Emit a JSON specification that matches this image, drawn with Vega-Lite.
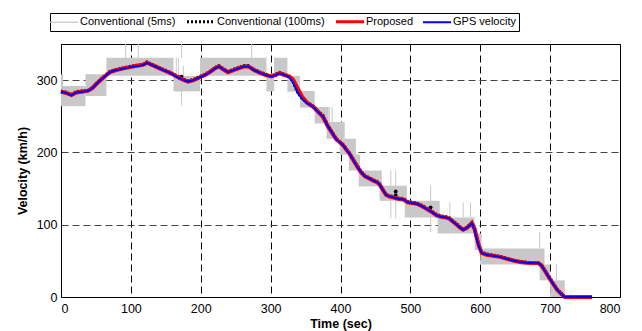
{
  "$schema": "https://vega.github.io/schema/vega-lite/v6.json",
  "width": 559,
  "height": 253,
  "autosize": {"type": "none"},
  "padding": {"left": 61, "top": 44, "right": 22, "bottom": 34},
  "background": "white",
  "config": {
    "view": {"stroke": "#000", "strokeWidth": 1},
    "font": "Liberation Sans",
    "axisX": {"grid": true, "gridColor": "#000", "gridDash": [7, 4], "gridOpacity": 1, "ticks": false, "labelPadding": 5, "domainColor": "#000", "labelFontSize": 12.5, "labelColor": "#000", "labelFont": "Liberation Sans", "titleFont": "Liberation Sans", "titleFontSize": 12.5, "titleFontWeight": "bold", "titleColor": "#000", "titlePadding": 3},
    "axisY": {"grid": true, "gridColor": "#444", "gridDash": [7, 4], "gridOpacity": 1, "ticks": false, "labelPadding": 4, "domainColor": "#000", "labelFontSize": 12.5, "labelColor": "#000", "labelFont": "Liberation Sans", "titleFont": "Liberation Sans", "titleFontSize": 12.5, "titleFontWeight": "bold", "titleColor": "#000", "titlePadding": 7}
  },
  "datasets": {
    "blocks": [
      {"t0": 0, "t1": 35, "v0": 264, "v1": 292},
      {"t0": 0, "t1": 3, "v0": 292, "v1": 308},
      {"t0": 35, "t1": 65, "v0": 278, "v1": 308},
      {"t0": 65, "t1": 161, "v0": 306, "v1": 331},
      {"t0": 161, "t1": 199, "v0": 284.5, "v1": 306},
      {"t0": 199, "t1": 294, "v0": 306, "v1": 331},
      {"t0": 294, "t1": 305, "v0": 284.5, "v1": 306},
      {"t0": 305, "t1": 324, "v0": 306, "v1": 331},
      {"t0": 324, "t1": 342, "v0": 284, "v1": 306},
      {"t0": 342, "t1": 363, "v0": 262, "v1": 285},
      {"t0": 363, "t1": 383, "v0": 240, "v1": 263},
      {"t0": 380, "t1": 406, "v0": 219, "v1": 242},
      {"t0": 399, "t1": 422, "v0": 197, "v1": 219},
      {"t0": 412, "t1": 428, "v0": 175, "v1": 197},
      {"t0": 426, "t1": 459, "v0": 153, "v1": 175},
      {"t0": 456, "t1": 495, "v0": 133, "v1": 154},
      {"t0": 492, "t1": 542, "v0": 110, "v1": 133},
      {"t0": 539, "t1": 592, "v0": 88, "v1": 110},
      {"t0": 592, "t1": 602, "v0": 65, "v1": 88},
      {"t0": 600, "t1": 692, "v0": 45, "v1": 67},
      {"t0": 685, "t1": 700, "v0": 23, "v1": 45},
      {"t0": 700, "t1": 721, "v0": 0, "v1": 23}
    ],
    "spikes": [
      {"t": 92.5, "v0": 331, "v1": 350},
      {"t": 110.6, "v0": 331, "v1": 350},
      {"t": 165, "v0": 284, "v1": 331},
      {"t": 168, "v0": 284, "v1": 331},
      {"t": 172.6, "v0": 331, "v1": 350},
      {"t": 172.6, "v0": 265, "v1": 285},
      {"t": 175, "v0": 290, "v1": 320},
      {"t": 272.8, "v0": 331, "v1": 350},
      {"t": 384, "v0": 219, "v1": 263},
      {"t": 388, "v0": 219, "v1": 263},
      {"t": 472, "v0": 109, "v1": 175},
      {"t": 479, "v0": 109, "v1": 175},
      {"t": 529, "v0": 90, "v1": 154},
      {"t": 556.5, "v0": 110, "v1": 131},
      {"t": 575.6, "v0": 110, "v1": 131},
      {"t": 586, "v0": 110, "v1": 131},
      {"t": 685, "v0": 67, "v1": 90},
      {"t": 709, "v0": 23, "v1": 46}
    ],
    "outliers": [
      {"t": 172.6, "v": 305},
      {"t": 479, "v": 146},
      {"t": 479, "v": 141},
      {"t": 529, "v": 124}
    ],
    "lines": [
      {"t": 0, "g": 284, "p": 284, "c": 285},
      {"t": 8, "g": 282, "p": 282, "c": 283},
      {"t": 15, "g": 279, "p": 279.5, "c": 280},
      {"t": 22, "g": 283, "p": 283, "c": 284},
      {"t": 30, "g": 284, "p": 284, "c": 285},
      {"t": 39, "g": 285, "p": 285.5, "c": 286},
      {"t": 45, "g": 289, "p": 289, "c": 290},
      {"t": 51, "g": 295, "p": 295, "c": 296},
      {"t": 60, "g": 303, "p": 303, "c": 304},
      {"t": 70, "g": 311, "p": 311, "c": 312},
      {"t": 76, "g": 313, "p": 313, "c": 314},
      {"t": 82, "g": 314.5, "p": 314.5, "c": 315.5},
      {"t": 90, "g": 316, "p": 316.5, "c": 317},
      {"t": 99, "g": 318, "p": 318, "c": 319},
      {"t": 106, "g": 319, "p": 319.5, "c": 320},
      {"t": 113, "g": 320, "p": 320.5, "c": 321},
      {"t": 118, "g": 321, "p": 321.5, "c": 322},
      {"t": 123, "g": 324, "p": 324, "c": 325},
      {"t": 130, "g": 321, "p": 321, "c": 322},
      {"t": 137, "g": 318, "p": 318, "c": 319},
      {"t": 146, "g": 314, "p": 314, "c": 315},
      {"t": 156, "g": 310, "p": 310, "c": 311},
      {"t": 163, "g": 306, "p": 306.5, "c": 307},
      {"t": 170, "g": 302.5, "p": 302.5, "c": 304},
      {"t": 176, "g": 300, "p": 300, "c": 301},
      {"t": 182, "g": 298, "p": 298, "c": 299},
      {"t": 190, "g": 300, "p": 300, "c": 301},
      {"t": 199, "g": 304, "p": 304, "c": 305},
      {"t": 206, "g": 307, "p": 307, "c": 308},
      {"t": 213, "g": 311, "p": 311, "c": 312},
      {"t": 220, "g": 316, "p": 316, "c": 317},
      {"t": 226, "g": 319, "p": 319, "c": 320},
      {"t": 232, "g": 315, "p": 315, "c": 316},
      {"t": 239, "g": 311, "p": 311, "c": 312},
      {"t": 247, "g": 314, "p": 314, "c": 315},
      {"t": 256, "g": 317, "p": 317, "c": 318},
      {"t": 262, "g": 319, "p": 319, "c": 320},
      {"t": 268, "g": 319, "p": 319, "c": 320},
      {"t": 276, "g": 314, "p": 314, "c": 315},
      {"t": 285, "g": 310, "p": 310, "c": 311},
      {"t": 293, "g": 307, "p": 307, "c": 308},
      {"t": 301, "g": 305, "p": 305, "c": 306},
      {"t": 307, "g": 307, "p": 307, "c": 308},
      {"t": 313, "g": 309.5, "p": 309.5, "c": 310.5},
      {"t": 320, "g": 307, "p": 307, "c": 308},
      {"t": 327, "g": 304, "p": 305, "c": 305},
      {"t": 332, "g": 297, "p": 301, "c": 298},
      {"t": 339, "g": 282, "p": 288, "c": 283},
      {"t": 345, "g": 274, "p": 277, "c": 275},
      {"t": 352, "g": 268, "p": 269, "c": 269},
      {"t": 361, "g": 263, "p": 263, "c": 264},
      {"t": 368, "g": 256, "p": 256, "c": 257},
      {"t": 375, "g": 249.6, "p": 249, "c": 251},
      {"t": 382, "g": 236, "p": 236, "c": 237},
      {"t": 388, "g": 227, "p": 227, "c": 228},
      {"t": 394, "g": 218, "p": 218, "c": 219},
      {"t": 399, "g": 214, "p": 214, "c": 215},
      {"t": 404, "g": 209.5, "p": 209.5, "c": 210.5},
      {"t": 413, "g": 198, "p": 198, "c": 199},
      {"t": 418, "g": 190, "p": 190, "c": 191},
      {"t": 423, "g": 182, "p": 182, "c": 183},
      {"t": 429, "g": 173, "p": 173, "c": 174},
      {"t": 435, "g": 167, "p": 167, "c": 168},
      {"t": 441, "g": 164, "p": 164, "c": 165},
      {"t": 447, "g": 161, "p": 161, "c": 162},
      {"t": 452, "g": 159, "p": 159, "c": 160},
      {"t": 456, "g": 155.6, "p": 155.6, "c": 156.6},
      {"t": 460, "g": 149, "p": 149, "c": 150},
      {"t": 465, "g": 141.5, "p": 141.5, "c": 142.5},
      {"t": 470, "g": 139, "p": 139, "c": 140},
      {"t": 475, "g": 138, "p": 138, "c": 139},
      {"t": 482, "g": 136, "p": 136, "c": 137},
      {"t": 490, "g": 135, "p": 135, "c": 136},
      {"t": 496, "g": 131, "p": 131, "c": 132},
      {"t": 502, "g": 130, "p": 130, "c": 131},
      {"t": 509, "g": 129, "p": 129, "c": 130},
      {"t": 516, "g": 126, "p": 126, "c": 127},
      {"t": 523, "g": 122, "p": 122, "c": 123},
      {"t": 530, "g": 118, "p": 118, "c": 119},
      {"t": 537.5, "g": 113, "p": 113, "c": 114},
      {"t": 544, "g": 111, "p": 111, "c": 112},
      {"t": 551, "g": 110, "p": 110, "c": 111},
      {"t": 556.5, "g": 108, "p": 108, "c": 109},
      {"t": 561, "g": 104, "p": 104, "c": 105},
      {"t": 566, "g": 100.4, "p": 100.4, "c": 101.4},
      {"t": 571, "g": 96, "p": 96, "c": 97},
      {"t": 575.6, "g": 93, "p": 93, "c": 94},
      {"t": 580, "g": 95, "p": 95, "c": 96},
      {"t": 585, "g": 99, "p": 99, "c": 100},
      {"t": 588, "g": 102, "p": 102, "c": 103},
      {"t": 592, "g": 93, "p": 94, "c": 94},
      {"t": 595, "g": 80, "p": 82, "c": 81},
      {"t": 598, "g": 70, "p": 71, "c": 71},
      {"t": 602, "g": 61, "p": 61, "c": 62},
      {"t": 609, "g": 58.5, "p": 58.5, "c": 59.5},
      {"t": 618, "g": 57, "p": 57, "c": 58},
      {"t": 628, "g": 55.5, "p": 55.5, "c": 56},
      {"t": 637, "g": 53, "p": 53, "c": 54},
      {"t": 647, "g": 50.5, "p": 50.5, "c": 51},
      {"t": 657, "g": 48.5, "p": 48.5, "c": 49},
      {"t": 666, "g": 47.5, "p": 47.5, "c": 48},
      {"t": 676, "g": 47, "p": 47, "c": 47.5},
      {"t": 683, "g": 47, "p": 47, "c": 47.5},
      {"t": 688, "g": 43, "p": 43, "c": 44},
      {"t": 692, "g": 37, "p": 37, "c": 38},
      {"t": 697, "g": 29, "p": 29, "c": 30},
      {"t": 704, "g": 18.5, "p": 18.5, "c": 19.5},
      {"t": 710, "g": 10, "p": 10, "c": 11},
      {"t": 716, "g": 4, "p": 4, "c": 5},
      {"t": 721, "g": 0, "p": 0, "c": 0.5},
      {"t": 730, "g": 0, "p": 0, "c": 0},
      {"t": 745, "g": 0, "p": 0, "c": 0},
      {"t": 760, "g": 0, "p": 0, "c": 0}
    ]
  },
  "layer": [
    {
      "data": {"name": "blocks"},
      "mark": {"type": "rect", "color": "#c8c8c8"},
      "encoding": {
        "x": {"field": "t0", "type": "quantitative", "title": "Time (sec)", "scale": {"domain": [0, 800], "nice": false}, "axis": {"values": [0, 100, 200, 300, 400, 500, 600, 700, 800]}},
        "x2": {"field": "t1"},
        "y": {"field": "v0", "type": "quantitative", "title": "Velocity (km/h)", "scale": {"domain": [0, 350], "nice": false}, "axis": {"values": [0, 50, 100, 150, 200, 250, 300, 350]}},
        "y2": {"field": "v1"}
      }
    },
    {
      "data": {"name": "spikes"},
      "mark": {"type": "rule", "color": "#c8c8c8", "strokeWidth": 1},
      "encoding": {
        "x": {"field": "t", "type": "quantitative", "title": "Time (sec)"},
        "y": {"field": "v0", "type": "quantitative", "title": "Velocity (km/h)"},
        "y2": {"field": "v1"}
      }
    },
    {
      "data": {"name": "lines"},
      "mark": {"type": "line", "strokeWidth": 3.2, "strokeDash": [2, 1.5]},
      "encoding": {
        "x": {"field": "t", "type": "quantitative", "title": "Time (sec)"},
        "y": {"field": "c", "type": "quantitative", "title": "Velocity (km/h)"},
        "color": {
          "datum": "Conventional (100ms)",
          "scale": {"domain": ["Conventional (5ms)", "Conventional (100ms)", "Proposed", "GPS velocity"], "range": ["#c8c8c8", "#000000", "#ff0000", "#0000ff"]},
          "legend": {
            "title": null,
            "orient": "none",
            "legendX": -11,
            "legendY": -31,
            "direction": "horizontal",
            "strokeColor": "#000",
            "fillColor": "#fff",
            "padding": 3,
            "columnPadding": 5,
            "labelFontSize": 11,
            "labelColor": "#000",
            "labelFont": "Liberation Sans",
            "labelOffset": 16,
            "symbolType": "M-1,0H2.3",
            "symbolSize": 289,
            "symbolStrokeWidth": 2,
            "encode": {
              "symbols": {
                "update": {
                  "strokeWidth": {"signal": "datum.value === 'Proposed' ? 3 : datum.value === 'Conventional (100ms)' ? 3 : datum.value === 'GPS velocity' ? 2 : 1.2"},
                  "strokeDash": {"signal": "datum.value === 'Conventional (100ms)' ? [2, 2] : []"}
                }
              }
            }
          }
        }
      }
    },
    {
      "data": {"name": "outliers"},
      "mark": {"type": "circle", "color": "#000", "size": 14, "opacity": 1},
      "encoding": {
        "x": {"field": "t", "type": "quantitative", "title": "Time (sec)"},
        "y": {"field": "v", "type": "quantitative", "title": "Velocity (km/h)"}
      }
    },
    {
      "data": {"name": "lines"},
      "mark": {"type": "line", "strokeWidth": 4},
      "encoding": {
        "x": {"field": "t", "type": "quantitative", "title": "Time (sec)"},
        "y": {"field": "p", "type": "quantitative", "title": "Velocity (km/h)"},
        "color": {"datum": "Proposed"}
      }
    },
    {
      "data": {"name": "lines"},
      "mark": {"type": "line", "strokeWidth": 2},
      "encoding": {
        "x": {"field": "t", "type": "quantitative", "title": "Time (sec)"},
        "y": {"field": "g", "type": "quantitative", "title": "Velocity (km/h)"},
        "color": {"datum": "GPS velocity"}
      }
    }
  ]
}
